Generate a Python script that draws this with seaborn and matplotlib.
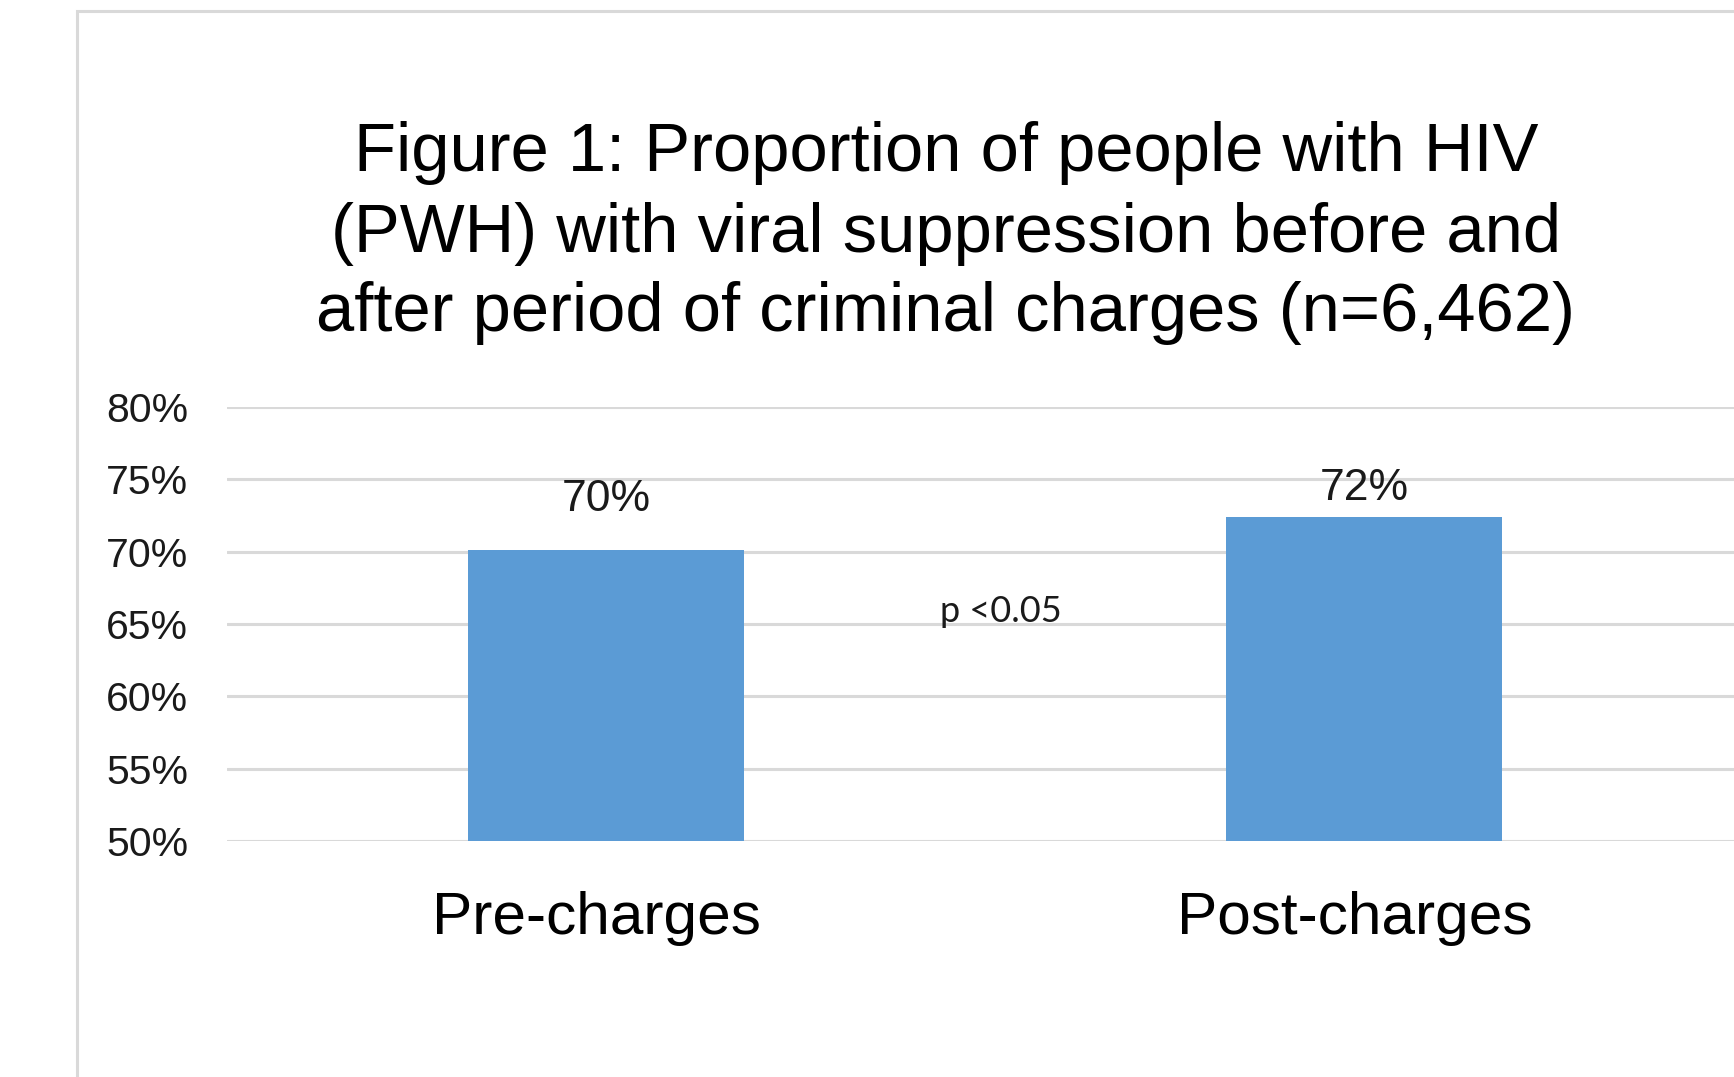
import matplotlib
matplotlib.use("Agg")
import matplotlib.pyplot as plt
import matplotlib.transforms as mtransforms
import seaborn as sns
import pandas as pd
from matplotlib.patches import Rectangle

# ---- data ----
categories = ["Pre-charges", "Post-charges"]
values = [70.1, 72.4]
value_labels = ["70%", "72%"]
y_ticks = [50, 55, 60, 65, 70, 75, 80]
y_tick_labels = ["50%", "55%", "60%", "65%", "70%", "75%", "80%"]
title_lines = ["Figure 1: Proportion of people with HIV",
               "(PWH) with viral suppression before and",
               "after period of criminal charges (n=6,462)"]
p_text = "p <0.05"

df = pd.DataFrame({"category": categories, "value": values})

sns.set_theme(style="white")
plt.rcParams["font.family"] = ["Liberation Sans", "DejaVu Sans"]

fig = plt.figure(figsize=(17.34, 10.77), dpi=100)
fig.patch.set_facecolor("white")

# chart-area frame (extends beyond right/bottom of picture)
fig.add_artist(Rectangle((77 / 1734, -0.05), 1.2, 0.05 + (1 - 11 / 1077),
                         transform=fig.transFigure, fill=False,
                         edgecolor="#D9D9D9", linewidth=2.2, zorder=0))

ax = fig.add_axes([227 / 1734, 1 - 841 / 1077, (1743 - 227) / 1734, (841 - 407) / 1077])
ax.set_facecolor("none")

sns.barplot(data=df, x="category", y="value", color="#5B9BD5", width=0.363,
            saturation=1, ax=ax, zorder=3, edgecolor="none")

ax.set_ylim(50, 80)
ax.set_xlim(-0.5, 1.5)
ax.set_yticks(y_ticks)
ax.set_yticklabels(y_tick_labels, fontsize=29.5, color="#1a1a1a")
ax.tick_params(axis="y", length=0, pad=28)
ax.tick_params(axis="x", length=0, pad=36, labelsize=43.5, labelcolor="#000000")
shift = mtransforms.ScaledTranslation(-7 / 72, 0, fig.dpi_scale_trans)
for lab in ax.get_xticklabels():
    lab.set_transform(lab.get_transform() + shift)
ax.set_xlabel("")
ax.set_ylabel("")
ax.grid(axis="y", color="#D9D9D9", linewidth=2.2, zorder=0)
ax.grid(axis="x", visible=False)
for s in ax.spines.values():
    s.set_visible(False)
ax.set_axisbelow(True)

# bar value labels
label_offsets = [28, 12]
for i, (v, lab) in enumerate(zip(values, value_labels)):
    ax.annotate(lab, xy=(i, v), xytext=(0, label_offsets[i]), textcoords="offset points",
                ha="center", va="baseline", fontsize=32, color="#1a1a1a")

# p-value annotation
ax.text(0.521, 65.15, p_text, ha="center", va="baseline", fontsize=26,
        family=["Lato", "DejaVu Sans"], color="#1a1a1a")

# title
baselines = [171, 252, 331]
for line, b in zip(title_lines, baselines):
    fig.text(946 / 1734, 1 - b / 1077, line, ha="center", va="baseline",
             fontsize=49.5, color="#000000")

fig.savefig("out.png", dpi=100, facecolor="white")
